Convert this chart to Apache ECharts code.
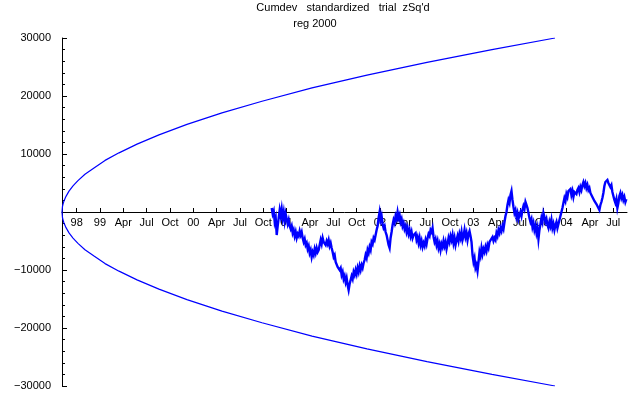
<!DOCTYPE html>
<html>
<head>
<meta charset="utf-8">
<script src="https://cdn.jsdelivr.net/npm/echarts@6/dist/echarts.min.js"></script>
<style>
    html, body { margin: 0; padding: 0; background: #fff; }
    .main { width: 640px; height: 395px; }
</style>
</head>
<body>
<div class="main"></div>
<script>
// x values are fractional years
let tickValues = [1998.75, 1999, 1999.25, 1999.5, 1999.75, 2000, 2000.25, 2000.5, 2000.75,
    2001, 2001.25, 2001.5, 2001.75, 2002, 2002.25, 2002.5, 2002.75,
    2003, 2003.25, 2003.5, 2003.75, 2004, 2004.25, 2004.5];
let tickLabels = ['98', '99', 'Apr', 'Jul', 'Oct', '00', 'Apr', 'Jul', 'Oct',
    '01', 'Apr', 'Jul', 'Oct', '02', 'Apr', 'Jul', 'Oct',
    '03', 'Apr', 'Jul', 'Oct', '04', 'Apr', 'Jul'];

// envelope
let envDates = [1998.593, 1998.598, 1998.604, 1998.614, 1998.636, 1998.668, 1998.711, 1998.764,
    1998.839, 1998.936, 1999.054, 1999.204, 1999.397, 1999.632, 1999.932, 2000.307,
    2000.736, 2001.272, 2001.861, 2002.504, 2003.200, 2003.875];
let envUpper = [0, 950, 1350, 1900, 2700, 3600, 4500, 5400, 6500, 7600, 8900, 10200,
    11700, 13300, 15100, 17100, 19100, 21400, 23600, 25800, 28000, 30000];
let envLower = [0, -950, -1350, -1900, -2700, -3600, -4500, -5400, -6500, -7600, -8900, -10200,
    -11700, -13300, -15100, -17100, -19100, -21400, -23600, -25800, -28000, -30000];

// cumdev, one sample every ~3.9 days
let walkStart = 2000.84;
let walkStep = 3.91 / 365.25;
let walkValues = [
    690, -340, 170, -1720, -1030, -3970, -2410, -1030, 340, -690, 520, -1030, 0, -1550, -340, -1210,
    -2070, -1380, -2410, -2930, -2410, -3620, -3100, -4140, -3450, -4480, -3790, -4140, -3280, -3970,
    -3450, -4480, -5170, -4660, -5690, -5340, -6380, -5860, -7070, -6550, -7760, -6900, -7410, -6380,
    -7070, -6210, -6900, -6550, -5690, -4830, -5520, -4480, -5170, -4830, -5690, -5000, -5520, -4830,
    -5860, -5340, -6210, -6900, -7760, -7410, -8620, -8280, -9480, -9140, -10000, -9650, -10860, -10340,
    -11550, -11030, -12070, -11380, -12590, -13450, -12410, -11720, -11030, -11550, -10340, -10860,
    -10000, -10690, -9650, -10340, -9310, -10000, -9140, -9650, -8790, -8280, -7410, -7930, -6550,
    -7070, -6030, -6550, -5170, -5520, -4480, -4830, -3970, -3100, -2410, -1030, 0, -1380, -690,
    -2070, -2760, -2410, -3450, -3970, -4830, -5690, -6210, -4480, -3450, -2240, -1380, -1900, -690,
    -1210, 0, -1030, -520, -1720, -1210, -2410, -1900, -2930, -2410, -3450, -2760, -3790, -3100,
    -4140, -3450, -4480, -3970, -4310, -3620, -4830, -4310, -5340, -4480, -5690, -5000, -6030, -5340,
    -5860, -4830, -5520, -4480, -3790, -4140, -3100, -3450, -2760, -4310, -5170, -4660, -5690, -5000,
    -6210, -5520, -6550, -5520, -6030, -5000, -5860, -5170, -6380, -5520, -4480, -5170, -4140, -4830,
    -3970, -5340, -4480, -5690, -4830, -4140, -5000, -3790, -4480, -3450, -4830, -4140, -3100, -4310,
    -3620, -4830, -3790, -3280, -4140, -5170, -7410, -8620, -7930, -9650, -9140, -10170, -8620, -6900,
    -7590, -6210, -7240, -6380, -6900, -6030, -6720, -5690, -6210, -5170, -4830, -5340, -4310, -5000,
    -4480, -4830, -3620, -4140, -3100, -3620, -2760, -3280, -2410, -2930, -1720, -690, 0, 1210, 2070,
    1550, 2930, 3620, 2070, 860, -170, 340, -860, -170, -1210, -520, 0, -690, 340, 1030, 520, 1720,
    1210, 690, -170, -1030, -1720, -1210, -2590, -1900, -3100, -2410, -3620, -2760, -4660, -3100,
    -2070, -1030, -1720, -170, -860, -1720, -1210, -2240, -2760, -1720, -2410, -1380, -2760, -2070,
    -3100, -2240, -1720, -2760, -2070, -1380, -690, 0, 690, 1550, 2410, 1900, 3100, 2590, 3620, 3280,
    3970, 2930, 3620, 2590, 3450, 3790, 3100, 3790, 4140, 3450, 4310, 3790, 4660, 5170, 4480, 5000,
    4140, 4660, 3790, 4140, 3280, 3620, 2590, 2930, 1900, 2240, 1380, 1720, 690, 340, 1210, 1720,
    2410, 3280, 4480, 5170, 4830, 5520, 5000, 5340, 4310, 4660, 3450, 2760, 2070, 1550, 2240, 690,
    1550, 2760, 3280, 2410, 2930, 2070, 2590, 1720, 2240
];

let fontFamily = 'Liberation Sans, Arial, sans-serif';

let pair = function(xs, ys) {
    return ys.map(function(v, i) { return [xs[i], v]; });
};

let walkData = walkValues.map(function(v, i) {
    return [walkStart + i * walkStep, v];
});

let myChart = echarts.init(document.querySelector('.main'), null, { renderer: 'canvas' });

let options = {
    animation: false,
    backgroundColor: '#fff',
    title: [
        {
            text: "Cumdev   standardized   trial  zSq'd",
            left: 343,
            top: 2,
            padding: 0,
            textAlign: 'center',
            textStyle: { fontFamily: fontFamily, fontSize: 11, fontWeight: 'normal', color: '#000' }
        },
        {
            text: 'reg 2000',
            left: 315,
            top: 18,
            padding: 0,
            textAlign: 'center',
            textStyle: { fontFamily: fontFamily, fontSize: 11, fontWeight: 'normal', color: '#000' }
        }
    ],
    grid: { left: 62, right: 13, top: 38, bottom: 9, containLabel: false },
    xAxis: {
        type: 'value',
        min: 1998.593,
        max: 2004.647,
        // the x axis sits on y = 0, half the grid height above the bottom
        offset: -174,
        axisLine: { onZero: false, lineStyle: { color: '#000', width: 1 } },
        axisTick: {
            show: true,
            inside: true,
            length: 4,
            customValues: tickValues,
            lineStyle: { color: '#000' }
        },
        axisLabel: {
            customValues: tickValues,
            margin: 5,
            fontFamily: fontFamily,
            fontSize: 11,
            color: '#000',
            formatter: function(value) {
                for (let i = 0; i < tickValues.length; i++) {
                    if (Math.abs(tickValues[i] - value) < 1e-6) {
                        return tickLabels[i];
                    }
                }
                return '';
            }
        },
        splitLine: { show: false }
    },
    yAxis: {
        type: 'value',
        min: -30000,
        max: 30000,
        interval: 10000,
        axisLine: { onZero: false, lineStyle: { color: '#000', width: 1 } },
        axisTick: { show: true, inside: true, length: 5, lineStyle: { color: '#000' } },
        minorTick: { show: true, splitNumber: 5, length: 3, lineStyle: { color: '#000' } },
        axisLabel: {
            margin: 11,
            fontFamily: fontFamily,
            fontSize: 11,
            color: '#000',
            formatter: function(value) {
                if (value === 0) {
                    return '';
                }
                return value < 0 ? '\u2212' + Math.abs(value) : String(value);
            }
        },
        splitLine: { show: false }
    },
    series: [
        {
            name: 'upper',
            type: 'line',
            data: pair(envDates, envUpper),
            showSymbol: false,
            lineStyle: { color: '#0000ff', width: 1.2 }
        },
        {
            name: 'lower',
            type: 'line',
            data: pair(envDates, envLower),
            showSymbol: false,
            lineStyle: { color: '#0000ff', width: 1.2 }
        },
        {
            name: 'cumdev',
            type: 'line',
            data: walkData,
            showSymbol: false,
            lineStyle: { color: '#0000ff', width: 2.4, join: 'miter' }
        }
    ]
};

myChart.setOption(options);
</script>
</body>
</html>
